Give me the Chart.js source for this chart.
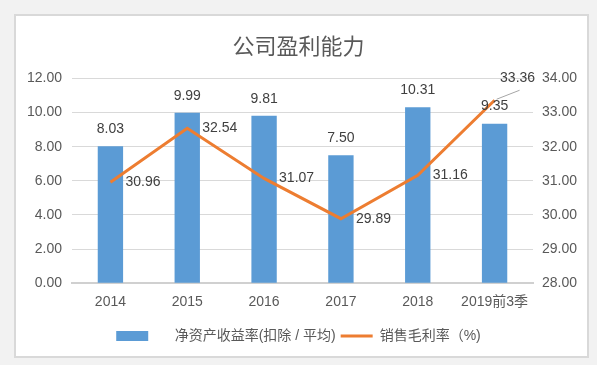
<!DOCTYPE html>
<html>
<head>
<meta charset="utf-8">
<script src="https://cdn.jsdelivr.net/npm/chart.js@4.4.1/dist/chart.umd.min.js"></script>
<style>
  html, body { margin: 0; padding: 0; background: #f2f2f2; }
  #card {
    position: absolute; left: 14px; top: 14px; width: 575px; height: 344px;
    box-sizing: border-box; border: 2px solid #d9d9d9; background: #fff;
  }
  #chart { position: absolute; left: 0; top: 0; }
</style>
</head>
<body>
<div id="card"></div>
<canvas id="chart" width="597" height="365"></canvas>
<script>
// chart data
const years = ['2014', '2015', '2016', '2017', '2018', '2019前3季'];
const roeValues = [8.03, 9.99, 9.81, 7.50, 10.31, 9.35];        // 净资产收益率(扣除 / 平均)
const marginValues = [30.96, 32.54, 31.07, 29.89, 31.16, 33.36]; // 销售毛利率（%)
const leftTicks = [0, 12, 2];
const rightTicks = [28, 34, 1];

const FONT = '"Liberation Sans", Arial, "Noto Sans CJK SC", sans-serif';
const TEXT = '#595959';

// draws the value labels next to bars and line points
const valueLabels = {
  id: 'valueLabels',
  afterDatasetsDraw(chart) {
    const ctx = chart.ctx;
    ctx.save();
    ctx.font = '14px ' + FONT;
    ctx.fillStyle = '#404040';
    ctx.textBaseline = 'middle';

    const lineMeta = chart.getDatasetMeta(1);
    lineMeta.data.forEach((pt, i) => {
      const txt = marginValues[i].toFixed(2);
      if (i === lineMeta.data.length - 1) {
        // last label sits up and to the right, with a small leader line
        ctx.strokeStyle = '#a6a6a6';
        ctx.lineWidth = 1;
        ctx.beginPath();
        ctx.moveTo(pt.x + 2, pt.y - 1);
        ctx.lineTo(pt.x + 25, pt.y - 10);
        ctx.stroke();
        ctx.textAlign = 'center';
        ctx.fillText(txt, pt.x + 23, pt.y - 22);
      } else {
        ctx.textAlign = 'left';
        ctx.fillText(txt, pt.x + 15, pt.y);
      }
    });

    chart.getDatasetMeta(0).data.forEach((bar, i) => {
      ctx.textAlign = 'center';
      ctx.fillText(roeValues[i].toFixed(2), bar.x, bar.y - 17);
    });
    ctx.restore();
  }
};

Chart.defaults.font.family = FONT;
Chart.defaults.color = TEXT;

new Chart(document.getElementById('chart').getContext('2d'), {
  type: 'bar',
  data: {
    labels: years,
    datasets: [
      {
        type: 'bar',
        label: '     净资产收益率(扣除 / 平均)',
        data: roeValues,
        backgroundColor: '#5b9bd5',
        barPercentage: 0.33,
        categoryPercentage: 1,
        yAxisID: 'y',
        pointStyle: 'rect',
        order: 1
      },
      {
        type: 'line',
        label: '销售毛利率（%)',
        data: marginValues,
        borderColor: '#ed7d31',
        backgroundColor: '#ed7d31',
        borderWidth: 3,
        pointRadius: 0,
        tension: 0,
        yAxisID: 'y1',
        pointStyle: 'line',
        order: 0
      }
    ]
  },
  options: {
    responsive: false,
    devicePixelRatio: 1,
    animation: false,
    layout: { padding: { top: 16, left: 14, right: 14, bottom: 12 } },
    plugins: {
      title: {
        display: true,
        text: '公司盈利能力',
        color: TEXT,
        font: { size: 22, weight: 'normal' },
        padding: { top: 19, bottom: 17 }
      },
      legend: {
        position: 'bottom',
        labels: {
          usePointStyle: true,
          pointStyleWidth: 32,
          boxHeight: 10,
          padding: 5,
          color: TEXT,
          font: { size: 14 },
          sort: (a, b) => a.datasetIndex - b.datasetIndex
        }
      },
      tooltip: { enabled: false }
    },
    scales: {
      x: {
        grid: { display: false },
        border: { display: true, color: '#d0d0d0', width: 2 },
        afterFit: (s) => { s.height = s.height + 10; },
        ticks: { padding: 3, font: { size: 14 }, color: TEXT, maxRotation: 0 }
      },
      y: {
        position: 'left',
        min: leftTicks[0],
        max: leftTicks[1],
        afterFit: (s) => { s.width = 58; },
        grid: { color: '#d9d9d9', lineWidth: 1, drawTicks: false },
        border: { display: false },
        ticks: {
          stepSize: leftTicks[2],
          padding: 10,
          font: { size: 14 },
          color: TEXT,
          callback: (v) => v.toFixed(2)
        }
      },
      y1: {
        position: 'right',
        min: rightTicks[0],
        max: rightTicks[1],
        afterFit: (s) => { s.width = 50; },
        grid: { display: false, drawTicks: false },
        border: { display: false },
        ticks: {
          stepSize: rightTicks[2],
          padding: 9,
          font: { size: 14 },
          color: TEXT,
          callback: (v) => v.toFixed(2)
        }
      }
    }
  },
  plugins: [valueLabels]
});
</script>
</body>
</html>
